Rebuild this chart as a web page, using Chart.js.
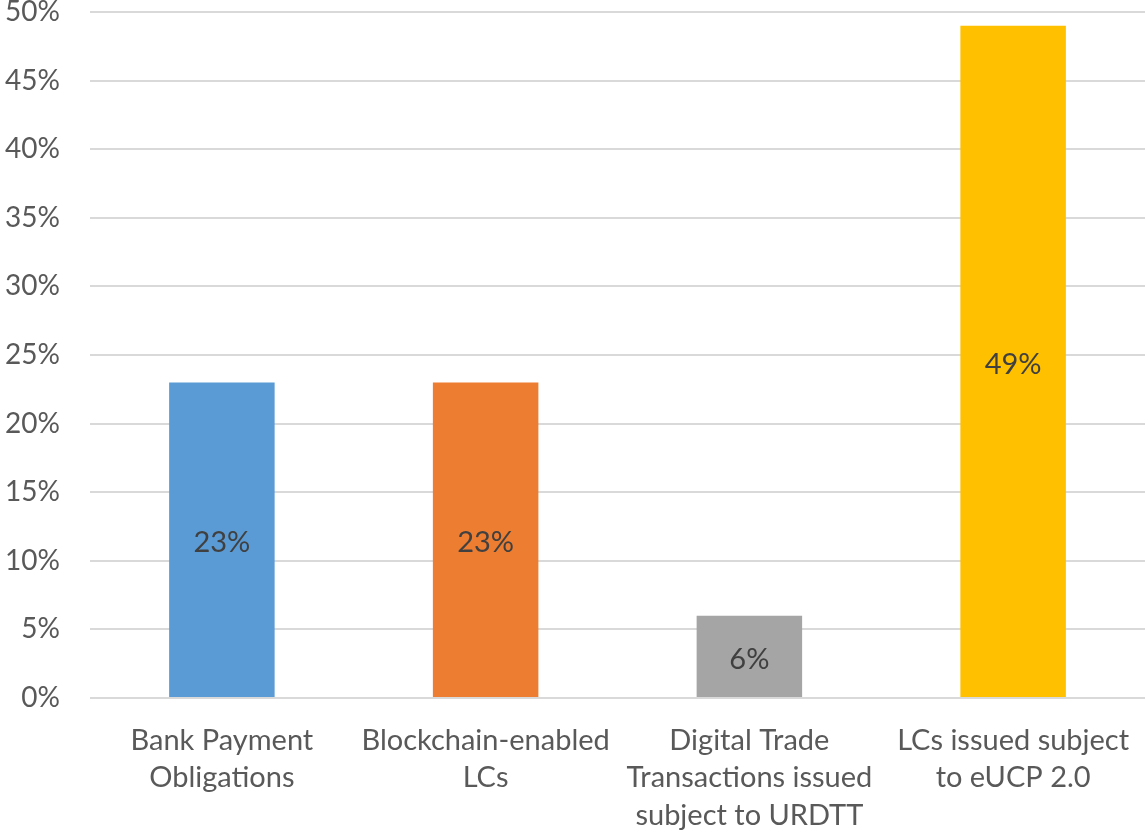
<!DOCTYPE html>
<html>
<head>
<meta charset="utf-8">
<script src="https://cdn.jsdelivr.net/npm/chart.js@4/dist/chart.umd.min.js"></script>
<style>
   html, body { margin: 0; padding: 0; background: #fff; }
   #wrap { width: 1145px; height: 835px; }
</style>
</head>
<body>
<div id="wrap"><canvas id="grafico"></canvas></div>
<script>
const categorias = [
   ['Bank Payment', 'Obligations'],
   ['Blockchain-enabled', 'LCs'],
   ['Digital Trade', 'Transactions issued', 'subject to URDTT'],
   ['LCs issued subject', 'to eUCP 2.0']
];
const valores = [23, 23, 6, 49];
const cores = ['#5B9BD5', '#ED7D31', '#A5A5A5', '#FFC000'];
const ticksY = [0, 5, 10, 15, 20, 25, 30, 35, 40, 45, 50];

const fonte = 'Lato, "Noto Sans", sans-serif';

// desenha o valor no meio de cada barra
const rotulosBarras = {
   id: 'rotulosBarras',
   afterDatasetsDraw(chart) {
      const ctx = chart.ctx;
      const meta = chart.getDatasetMeta(0);
      ctx.save();
      ctx.font = '29px ' + fonte;
      ctx.fillStyle = '#404040';
      ctx.textAlign = 'center';
      ctx.textBaseline = 'middle';
      meta.data.forEach((barra, i) => {
         const meio = (barra.y + barra.base) / 2 + 3;
         ctx.fillText(valores[i] + '%', barra.x, meio);
      });
      ctx.restore();
   }
};

var ctx = document.getElementById('grafico');
new Chart(ctx, {
   type: 'bar',
   data: {
      labels: categorias,
      datasets: [{
         data: valores,
         backgroundColor: cores,
         borderWidth: 0,
         barPercentage: 0.4,
         categoryPercentage: 1
      }]
   },
   options: {
      responsive: true,
      maintainAspectRatio: false,
      animation: false,
      layout: {
         padding: { top: 12, right: 0, bottom: 0, left: 0 }
      },
      plugins: {
         legend: { display: false },
         tooltip: { enabled: false }
      },
      scales: {
         x: {
            grid: { display: false },
            border: { display: false },
            ticks: {
               color: '#595959',
               font: { family: fonte, size: 29, lineHeight: 1.29 },
               maxRotation: 0,
               autoSkip: false,
               padding: 16
            },
            afterFit(scale) {
               scale.height = 137;
               scale.paddingLeft = 0;
               scale.paddingRight = 0;
            }
         },
         y: {
            min: 0,
            max: 50,
            afterBuildTicks(scale) {
               scale.ticks = ticksY.map(v => ({ value: v }));
            },
            grid: { color: '#D9D9D9', lineWidth: 2, drawTicks: false },
            border: { display: false },
            ticks: {
               color: '#595959',
               font: { family: fonte, size: 28 },
               padding: 30,
               callback: v => v + '%'
            },
            afterFit(scale) {
               scale.width = 90;
               scale.paddingTop = 0;
               scale.paddingBottom = 0;
            }
         }
      }
   },
   plugins: [rotulosBarras]
});
</script>
</body>
</html>
